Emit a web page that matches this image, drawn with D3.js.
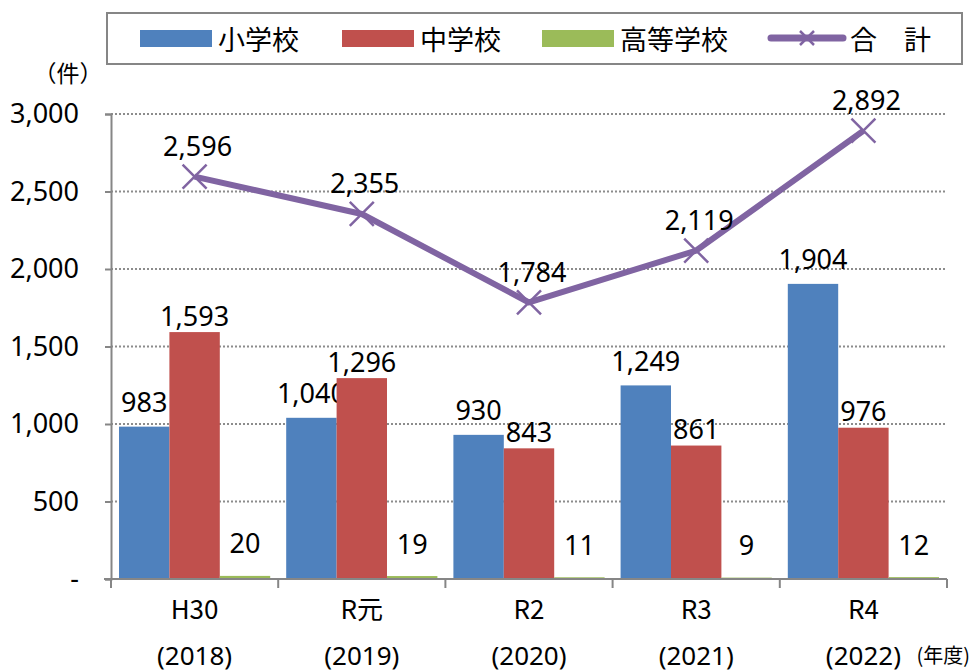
<!DOCTYPE html>
<html>
<head>
  <meta charset="utf-8">
  <title>学校種別 件数</title>
  <script src="https://cdn.jsdelivr.net/npm/d3@7"></script>
  <style>
    body { margin: 0; background: #fff; }
    text { font-family: "Noto Sans", "Noto Sans CJK JP", sans-serif; fill: #000; }
    .cjk { font-family: "Noto Sans CJK JP", sans-serif; }
  </style>
</head>
<body>
  <div id="chart"></div>
  <script>
    // categories (two-line x labels)
    var years = ["H30", "R元", "R2", "R3", "R4"];
    var yearsWestern = ["(2018)", "(2019)", "(2020)", "(2021)", "(2022)"];

    // series values
    var elementary = [983, 1040, 930, 1249, 1904];
    var juniorHigh = [1593, 1296, 843, 861, 976];
    var highSchool = [20, 19, 11, 9, 12];
    var total = [2596, 2355, 1784, 2119, 2892];

    var yTicks = [0, 500, 1000, 1500, 2000, 2500, 3000];

    var seriesNames = ["小学校", "中学校", "高等学校"];
    var colors = ["#4f81bd", "#c0504d", "#9bbb59"];
    var lineColor = "#8064a2";
    // label lift above bar top, per series
    var lift = [25, 17, 33];

    var width = 975, height = 672;
    var svg = d3.select("#chart").append("svg")
      .attr("width", width)
      .attr("height", height);

    var x = d3.scaleBand().domain(years).range([111, 947]);
    var x1 = d3.scaleBand().domain(d3.range(3)).range([8, x.bandwidth() - 8]);
    var y = d3.scaleLinear().domain([0, 3000]).range([579, 114]);
    var fmt = d3.format(",");

    // gridlines (dotted)
    svg.append("g")
      .selectAll("line")
      .data(yTicks.filter(function(d) { return d > 0; }))
      .enter().append("line")
      .attr("x1", 111).attr("x2", 947)
      .attr("y1", function(d) { return y(d); })
      .attr("y2", function(d) { return y(d); })
      .attr("stroke", "#8c8c8c")
      .attr("stroke-width", 2)
      .attr("stroke-dasharray", "2,2");

    // bars
    var seriesData = [elementary, juniorHigh, highSchool];
    seriesData.forEach(function(vals, s) {
      var g = svg.append("g");
      g.selectAll("rect")
        .data(vals)
        .enter().append("rect")
        .attr("x", function(d, i) { return x(years[i]) + x1(s); })
        .attr("y", function(d) { return y(d); })
        .attr("width", x1.bandwidth())
        .attr("height", function(d) { return y(0) - y(d); })
        .attr("fill", colors[s]);
      g.selectAll("text")
        .data(vals)
        .enter().append("text")
        .attr("x", function(d, i) { return x(years[i]) + x1(s) + x1.bandwidth() / 2; })
        .attr("y", function(d) { return y(d) - lift[s]; })
        .attr("text-anchor", "middle")
        .attr("dominant-baseline", "central")
        .attr("font-size", 27)
        .text(function(d) { return fmt(d); });
    });

    // axes
    var yAxis = d3.axisLeft(y)
      .tickValues(yTicks)
      .tickSize(6)
      .tickPadding(26)
      .tickFormat(function(d) { return d === 0 ? "-" : fmt(d); });
    var gy = svg.append("g").attr("transform", "translate(111,0)").call(yAxis);
    gy.select(".domain").attr("stroke", "#868686").attr("stroke-width", 2);
    gy.selectAll(".tick line").attr("stroke", "#868686").attr("stroke-width", 2);
    gy.selectAll(".tick text")
      .attr("font-size", 27)
      .attr("font-family", "Noto Sans, sans-serif")
      .attr("fill", "#000");

    var gx = svg.append("g").attr("transform", "translate(0,579)");
    gx.append("line")
      .attr("x1", 104).attr("x2", 947)
      .attr("stroke", "#868686").attr("stroke-width", 2);
    gx.selectAll(".tk")
      .data(years.concat(["end"]))
      .enter().append("line")
      .attr("x1", function(d, i) { return i < years.length ? x(d) : x.range()[1]; })
      .attr("x2", function(d, i) { return i < years.length ? x(d) : x.range()[1]; })
      .attr("y1", 0).attr("y2", 9)
      .attr("stroke", "#868686").attr("stroke-width", 2);
    gx.selectAll(".lab1")
      .data(years)
      .enter().append("text")
      .attr("class", "cjk")
      .attr("x", function(d) { return x(d) + x.bandwidth() / 2; })
      .attr("y", 28)
      .attr("text-anchor", "middle")
      .attr("dominant-baseline", "central")
      .attr("font-size", 26)
      .text(function(d) { return d; });
    gx.selectAll(".lab2")
      .data(yearsWestern)
      .enter().append("text")
      .attr("x", function(d, i) { return x(years[i]) + x.bandwidth() / 2; })
      .attr("y", 76)
      .attr("text-anchor", "middle")
      .attr("dominant-baseline", "central")
      .attr("font-size", 26)
      .text(function(d) { return d; });

    // total line
    var cx = function(d, i) { return x(years[i]) + x.bandwidth() / 2; };
    var line = d3.line()
      .x(cx)
      .y(function(d) { return y(d); });
    svg.append("path")
      .datum(total)
      .attr("d", line)
      .attr("fill", "none")
      .attr("stroke", lineColor)
      .attr("stroke-width", 6)
      .attr("stroke-linejoin", "round");

    var cross = function(cxv, cyv, r) {
      return "M" + (cxv - r) + "," + (cyv - r) + "L" + (cxv + r) + "," + (cyv + r) +
        "M" + (cxv - r) + "," + (cyv + r) + "L" + (cxv + r) + "," + (cyv - r);
    };
    svg.append("g")
      .selectAll("path")
      .data(total)
      .enter().append("path")
      .attr("d", function(d, i) { return cross(cx(d, i), y(d), 12); })
      .attr("stroke", lineColor)
      .attr("stroke-width", 2.5)
      .attr("fill", "none");

    svg.append("g")
      .selectAll("text")
      .data(total)
      .enter().append("text")
      .attr("x", function(d, i) { return cx(d, i) + 3; })
      .attr("y", function(d) { return y(d) - 31; })
      .attr("text-anchor", "middle")
      .attr("dominant-baseline", "central")
      .attr("font-size", 27)
      .text(function(d) { return fmt(d); });

    // unit labels
    svg.append("text")
      .attr("class", "cjk")
      .attr("x", 68).attr("y", 72)
      .attr("text-anchor", "middle")
      .attr("dominant-baseline", "central")
      .attr("font-size", 23)
      .attr("fill", "#222")
      .text("（件）");
    svg.append("text")
      .attr("class", "cjk")
      .attr("x", 970).attr("y", 654)
      .attr("text-anchor", "end")
      .attr("dominant-baseline", "central")
      .attr("font-size", 20)
      .attr("fill", "#222")
      .text("(年度)");

    // legend
    var legend = svg.append("g");
    legend.append("rect")
      .attr("x", 107).attr("y", 13)
      .attr("width", 855).attr("height", 51)
      .attr("fill", "#fff")
      .attr("stroke", "#868686")
      .attr("stroke-width", 2);
    var legX = [140, 342, 542];
    seriesNames.forEach(function(name, s) {
      legend.append("rect")
        .attr("x", legX[s]).attr("y", 30)
        .attr("width", 72).attr("height", 17)
        .attr("fill", colors[s]);
      legend.append("text")
        .attr("class", "cjk")
        .attr("x", legX[s] + 78).attr("y", 38)
        .attr("dominant-baseline", "central")
        .attr("font-size", 27)
        .text(name);
    });
    legend.append("line")
      .attr("x1", 771).attr("x2", 843)
      .attr("y1", 38).attr("y2", 38)
      .attr("stroke", lineColor)
      .attr("stroke-width", 7)
      .attr("stroke-linecap", "round");
    legend.append("path")
      .attr("d", cross(807, 38, 7))
      .attr("stroke", lineColor)
      .attr("stroke-width", 2.5);
    legend.append("text")
      .attr("class", "cjk")
      .attr("x", 850).attr("y", 38)
      .attr("dominant-baseline", "central")
      .attr("font-size", 27)
      .text("合　計");
  </script>
</body>
</html>
